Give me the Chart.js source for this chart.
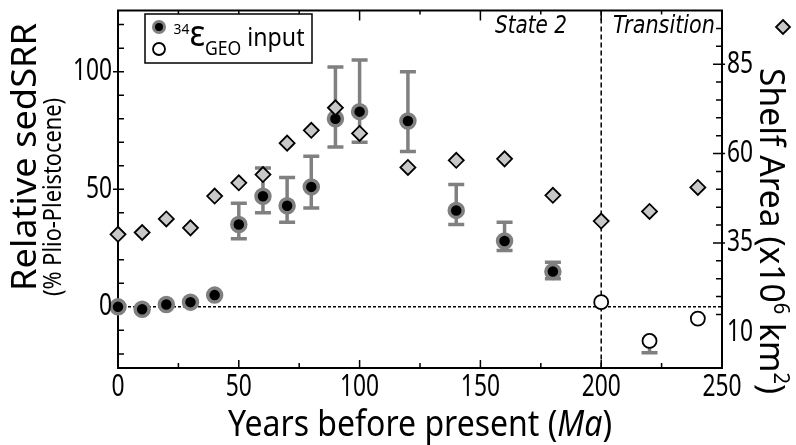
<!DOCTYPE html>
<html>
<head>
<meta charset="utf-8">
<script src="https://cdn.jsdelivr.net/npm/chart.js@4.4.1/dist/chart.umd.min.js"></script>
<style>
  html, body { margin: 0; padding: 0; background: #fff; }
</style>
</head>
<body>
<canvas id="chart" width="796" height="445"></canvas>
<script>
// data
const ages = [0, 10, 20, 30, 40, 50, 60, 70, 80, 90, 100, 120, 140, 160, 180];
const sedSRR = [0, -1, 1, 2, 5, 35, 47, 43, 51, 80, 83, 79, 41, 28, 15];
const errLow = [null, null, null, null, null, 29, 40, 36, 42, 68, 70, 66, 35, 24, 12];
const errHigh = [null, null, null, null, null, 44, 59, 55, 64, 102, 105, 100, 52, 36, 19];

const openAges = [200, 220, 240];
const openSRR = [2, -14.5, -5];
const openLow = [null, -19.5, null];
const openHigh = [null, null, null];

const shelfAges = [0, 10, 20, 30, 40, 50, 60, 70, 80, 90, 100, 120, 140, 160, 180, 200, 220, 240];
const shelfArea = [37.4, 37.9, 41.7, 39.2, 48.1, 51.8, 54.1, 62.9, 66.5, 72.8, 65.6, 56.1, 58.1, 58.5, 48.3, 41.1, 43.8, 50.5];

const xTicks = [0, 50, 100, 150, 200, 250];
const yTicks = [0, 50, 100];
const y2Ticks = [10, 35, 60, 85];

const GRAY = "#808080";
const SANS = "'Noto Sans', 'DejaVu Sans', sans-serif";

function pts(xs, ys) {
  return xs.map((x, i) => ({ x: x, y: ys[i] }));
}

// text drawn with horizontal squeeze, fitted to a target length
function drawParts(ctx, parts, x, y, rot, target) {
  let total = 0;
  parts.forEach((p) => {
    ctx.font = p.font;
    p.w = ctx.measureText(p.t).width;
    total += p.w;
  });
  const sx = target / total;
  ctx.save();
  ctx.translate(x, y);
  ctx.rotate(rot);
  ctx.scale(sx, 1);
  ctx.textBaseline = "alphabetic";
  ctx.textAlign = "left";
  let cx = -total / 2;
  parts.forEach((p) => {
    ctx.font = p.font;
    ctx.fillText(p.t, cx, p.dy || 0);
    cx += p.w;
  });
  ctx.restore();
}

function diamond(ctx, x, y, r) {
  ctx.beginPath();
  ctx.moveTo(x, y - r);
  ctx.lineTo(x + r, y);
  ctx.lineTo(x, y + r);
  ctx.lineTo(x - r, y);
  ctx.closePath();
  ctx.fillStyle = "#c8c8c8";
  ctx.fill();
  ctx.lineWidth = 1.8;
  ctx.strokeStyle = "#000";
  ctx.stroke();
}

function errorBars(ctx, xs, centers, lows, highs, xScale, yScale) {
  ctx.strokeStyle = GRAY;
  ctx.lineWidth = 3.5;
  xs.forEach((age, i) => {
    const px = xScale.getPixelForValue(age);
    const mid = yScale.getPixelForValue(centers[i]);
    [lows[i], highs[i]].forEach((v) => {
      if (v === null) return;
      const py = yScale.getPixelForValue(v);
      ctx.beginPath();
      ctx.moveTo(px, mid);
      ctx.lineTo(px, py);
      ctx.moveTo(px - 8, py);
      ctx.lineTo(px + 8, py);
      ctx.stroke();
    });
  });
}

const figurePlugin = {
  id: "figure",
  beforeDatasetsDraw(chart) {
    const { ctx, chartArea: a, scales } = chart;
    const x = scales.x, y = scales.y;
    ctx.save();
    // zero line
    ctx.setLineDash([3, 2]);
    ctx.lineWidth = 1.5;
    ctx.strokeStyle = "#000";
    ctx.beginPath();
    ctx.moveTo(a.left, y.getPixelForValue(0));
    ctx.lineTo(a.right, y.getPixelForValue(0));
    ctx.stroke();
    // state boundary
    ctx.setLineDash([5, 3]);
    ctx.beginPath();
    ctx.moveTo(x.getPixelForValue(200), a.top);
    ctx.lineTo(x.getPixelForValue(200), a.bottom);
    ctx.stroke();
    ctx.setLineDash([]);

    // frame
    ctx.lineWidth = 2;
    ctx.strokeRect(a.left, a.top, a.right - a.left, a.bottom - a.top);

    // tick marks, pointing inward
    ctx.lineWidth = 1.5;
    ctx.beginPath();
    for (let v = 25; v < 250; v += 25) {
      const px = x.getPixelForValue(v);
      ctx.moveTo(px, a.bottom);
      ctx.lineTo(px, a.bottom - (v % 50 === 0 ? 8 : 5));
      ctx.moveTo(px, a.top);
      ctx.lineTo(px, a.top + (v % 50 === 0 ? 10 : 4));
    }
    for (let v = -20; v <= 120; v += 10) {
      const py = y.getPixelForValue(v);
      const major = v % 50 === 0;
      ctx.moveTo(a.left - (major ? 5 : 0), py);
      ctx.lineTo(a.left + 6, py);
    }
    for (let v = 15; v <= 95; v += 5) {
      const py = scales.y2.getPixelForValue(v);
      const major = y2Ticks.includes(v);
      ctx.moveTo(a.right + (major ? 3 : 0), py);
      ctx.lineTo(a.right - (major ? 9 : 6), py);
    }
    ctx.stroke();

    // error bars under the markers
    errorBars(ctx, ages, sedSRR, errLow, errHigh, x, y);
    errorBars(ctx, openAges, openSRR, openLow, openHigh, x, y);
    ctx.restore();
  },
  afterDatasetsDraw(chart) {
    const { ctx, chartArea: a, scales } = chart;
    ctx.save();
    ctx.fillStyle = "#000";
    const sq = 0.76;

    // tick labels
    ctx.font = "30px " + SANS;
    ctx.textBaseline = "middle";
    scales.x.ticks.forEach((t) => {
      ctx.save();
      ctx.translate(scales.x.getPixelForValue(t.value), 387);
      ctx.scale(sq, 1);
      ctx.textAlign = "center";
      ctx.fillText(String(t.value), 0, 0);
      ctx.restore();
    });
    scales.y.ticks.forEach((t) => {
      ctx.save();
      ctx.translate(a.left - 6, scales.y.getPixelForValue(t.value));
      ctx.scale(sq, 1);
      ctx.textAlign = "right";
      ctx.fillText(String(t.value), 0, 0);
      ctx.restore();
    });
    scales.y2.ticks.forEach((t) => {
      ctx.save();
      ctx.translate(a.right + 5, scales.y2.getPixelForValue(t.value));
      ctx.scale(sq, 1);
      ctx.textAlign = "left";
      ctx.fillText(String(t.value), 0, 0);
      ctx.restore();
    });

    // axis titles
    drawParts(ctx, [{ t: "Relative sedSRR", font: "35px " + SANS }], 36, 157, -Math.PI / 2, 268);
    drawParts(ctx, [{ t: "(% Plio-Pleistocene)", font: "25px " + SANS }], 61, 197, -Math.PI / 2, 198);
    drawParts(ctx, [
      { t: "Years before present (", font: "36px " + SANS },
      { t: "Ma", font: "italic 36px " + SANS },
      { t: ")", font: "36px " + SANS }
    ], 420, 436, 0, 384);
    drawParts(ctx, [
      { t: "Shelf Area (x10", font: "35px " + SANS },
      { t: "6", font: "21px " + SANS, dy: -14 },
      { t: " km", font: "35px " + SANS },
      { t: "2", font: "21px " + SANS, dy: -14 },
      { t: ")", font: "35px " + SANS }
    ], 760, 231, Math.PI / 2, 326);
    diamond(ctx, 783, 27, 7);

    // state labels
    ctx.fillStyle = "#000";
    const it = "italic 25px 'DejaVu Sans', sans-serif";
    drawParts(ctx, [{ t: "State 2", font: it }], 531, 33, 0, 72);
    drawParts(ctx, [{ t: "Transition", font: it }], 664, 33, 0, 102);

    // legend
    ctx.fillStyle = "#fff";
    ctx.fillRect(145, 14, 167, 49);
    ctx.lineWidth = 1.5;
    ctx.strokeStyle = "#000";
    ctx.strokeRect(145, 14, 167, 49);
    ctx.beginPath();
    ctx.arc(159, 27, 5.5, 0, Math.PI * 2);
    ctx.fillStyle = "#000";
    ctx.fill();
    ctx.lineWidth = 3;
    ctx.strokeStyle = GRAY;
    ctx.stroke();
    ctx.beginPath();
    ctx.arc(159, 49, 6, 0, Math.PI * 2);
    ctx.fillStyle = "#fff";
    ctx.fill();
    ctx.lineWidth = 1.8;
    ctx.strokeStyle = "#000";
    ctx.stroke();
    ctx.fillStyle = "#000";
    drawParts(ctx, [
      { t: "34", font: "15px " + SANS, dy: -12 },
      { t: "\u03b5", font: "36px " + SANS },
      { t: "GEO", font: "19px " + SANS, dy: 9 },
      { t: " input", font: "25px " + SANS }
    ], 239, 46, 0, 131);
    ctx.restore();
  }
};

new Chart(document.getElementById("chart"), {
  type: "scatter",
  data: {
    datasets: [
      {
        label: "Shelf Area",
        data: pts(shelfAges, shelfArea),
        yAxisID: "y2",
        pointStyle: "rectRot",
        pointRadius: 7.5,
        pointBackgroundColor: "#c8c8c8",
        pointBorderColor: "#000",
        pointBorderWidth: 1.8,
        clip: false
      },
      {
        label: "34eGEO input",
        data: pts(ages, sedSRR),
        yAxisID: "y",
        pointRadius: 7,
        pointBackgroundColor: "#000",
        pointBorderColor: GRAY,
        pointBorderWidth: 3.5,
        clip: false
      },
      {
        label: "open",
        data: pts(openAges, openSRR),
        yAxisID: "y",
        pointRadius: 7,
        pointBackgroundColor: "#fff",
        pointBorderColor: "#000",
        pointBorderWidth: 1.8,
        clip: false
      }
    ]
  },
  options: {
    responsive: false,
    animation: false,
    layout: { padding: { top: 4 } },
    plugins: { legend: { display: false }, tooltip: { enabled: false } },
    scales: {
      x: {
        type: "linear", min: 0, max: 250, position: "bottom",
        grid: { display: false }, border: { display: false },
        ticks: { display: false },
        afterBuildTicks: (s) => { s.ticks = xTicks.map((v) => ({ value: v })); },
        afterFit: (s) => { s.height = 77; }
      },
      y: {
        type: "linear", min: -26, max: 126, position: "left",
        grid: { display: false }, border: { display: false },
        ticks: { display: false },
        afterBuildTicks: (s) => { s.ticks = yTicks.map((v) => ({ value: v })); },
        afterFit: (s) => { s.width = 118; }
      },
      y2: {
        type: "linear", min: 0, max: 100, position: "right",
        grid: { display: false }, border: { display: false },
        ticks: { display: false },
        afterBuildTicks: (s) => { s.ticks = y2Ticks.map((v) => ({ value: v })); },
        afterFit: (s) => { s.width = 74; }
      }
    }
  },
  plugins: [figurePlugin]
});
</script>
</body>
</html>
